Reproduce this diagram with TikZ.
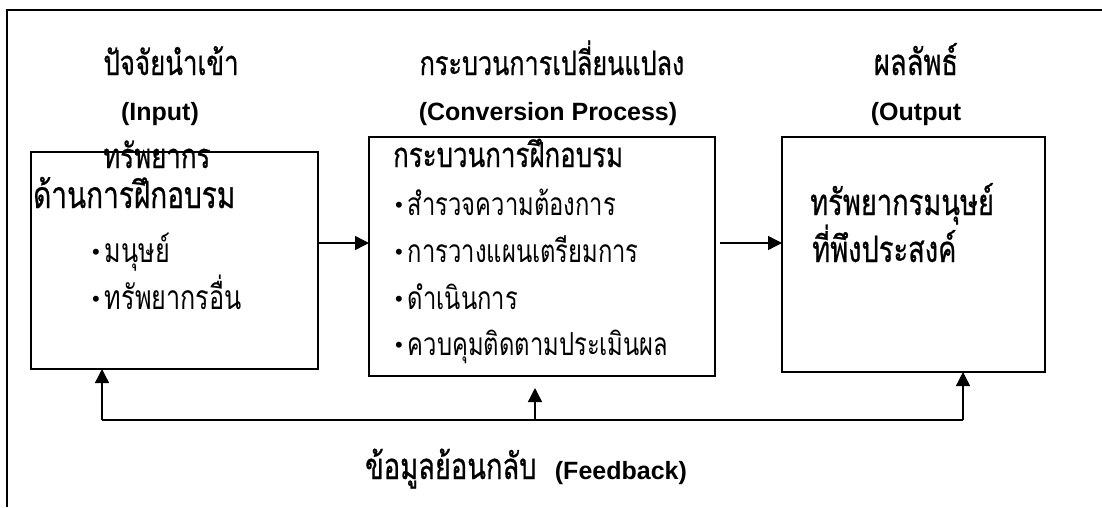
\documentclass[tikz,border=0pt]{standalone}
\usepackage{fontspec}
\setmainfont{Liberation Sans}
\newfontfamily\thaifont[Script=Thai, FakeStretch=0.75]{Loma}
\newfontfamily\thaihead[Script=Thai, FakeStretch=0.75, FakeBold=0.6]{Loma}
\newcommand{\dotmark}{\raisebox{2.5pt}{\normalfont\fontsize{22}{22}\selectfont\textbullet}\hspace{5pt}}
\usetikzlibrary{arrows.meta}

\begin{document}
\begin{tikzpicture}[
    stagebox/.style={draw=black, line width=1.3pt, inner sep=0pt, outer sep=0pt, anchor=north west},
    head/.style={font=\thaihead\fontsize{#1}{#1}\selectfont, inner sep=0pt, anchor=base},
    head/.default=34.5,
    tag/.style={font=\bfseries\fontsize{25}{28}\selectfont, inner sep=0pt, anchor=base},
    title/.style={font=\thaihead\fontsize{#1}{#1}\selectfont, inner sep=0pt, anchor=base west},
    title/.default=34.5,
    item/.style={font=\thaifont\fontsize{#1}{#1}\selectfont, inner sep=0pt, anchor=base west},
    item/.default=31.7,
    flow/.style={-{Triangle[length=14pt, width=14pt]}, line width=1.4pt},
    x=1pt, y=-1pt]

    \useasboundingbox (0,0) rectangle (1102,507);

    % ================= the frame: top and left edges only =================
    \draw[line width=1.2pt] (7,507) -- (7,10) -- (1102,10);

    % ================= headings over the three stages =================
    \node[head]       (inhead)   at (171, 75) {ปัจจัยนำเข้า};
    \node[tag]        (intag)    at (160,120) {(Input)};
    \node[head=33.6]  (prochead) at (552, 75) {กระบวนการเปลี่ยนแปลง};
    \node[tag]        (proctag)  at (548,120) {(Conversion Process)};
    \node[head=36.4]  (outhead)  at (916, 75) {ผลลัพธ์};
    \node[tag]        (outtag)   at (916,120) {(Output};

    % ================= the three boxes =================
    \node[stagebox, minimum width=287pt, minimum height=217pt] (inbox)   at (31,152)  {};
    \node[stagebox, minimum width=346pt, minimum height=239pt] (procbox) at (369,137) {};
    \node[stagebox, minimum width=263pt, minimum height=235pt] (outbox)  at (782,137) {};

    % input: training resources -
    \node[title]      (in1) at (103,168) {ทรัพยากร};
    \node[title=37.3] (in2) at (33,208)  {ด้านการฝึกอบรม};
    \node[item=33.6]  (in3) at (92,262)  {\dotmark มนุษย์};
    \node[item=33.6]  (in4) at (92,309)  {\dotmark ทรัพยากรอื่น};

    % process: the training cycle -
    \node[title]      (proc1) at (393,167) {กระบวนการฝึกอบรม};
    \node[item]       (proc2) at (395,215) {\dotmark สำรวจความต้องการ};
    \node[item]       (proc3) at (395,262) {\dotmark การวางแผนเตรียมการ};
    \node[item]       (proc4) at (395,309) {\dotmark ดำเนินการ};
    \node[item]       (proc5) at (395,355) {\dotmark ควบคุมติดตามประเมินผล};

    % output: the people wanted -
    \node[title=36.4] (out1) at (810,215) {ทรัพยากรมนุษย์};
    \node[title=36.4] (out2) at (812,262) {ที่พึงประสงค์};

    % ================= forward flow =================
    \coordinate (flowrow) at (0,243);
    \draw[flow] (inbox.east |- flowrow) -- (procbox.west |- flowrow);
    \draw[flow, shorten <=5pt] (procbox.east |- flowrow) -- (outbox.west |- flowrow);

    % ================= feedback loop =================
    \coordinate (fbin)   at (102,420);
    \coordinate (fbproc) at (535,420);
    \coordinate (fbout)  at (963,420);
    \draw[line width=1.4pt] (fbin) -- (fbout);
    \draw[flow] (fbin) -- (inbox.south -| fbin);
    \draw[flow, shorten >=12pt] (fbproc) -- (procbox.south -| fbproc);
    \draw[flow] (fbout) -- (outbox.south -| fbout);

    \node[head=36.4] (fbtext) at (526,479) {ข้อมูลย้อนกลับ\ \ {\normalfont\bfseries\fontsize{25}{28}\selectfont(Feedback)}};
\end{tikzpicture}
\end{document}
